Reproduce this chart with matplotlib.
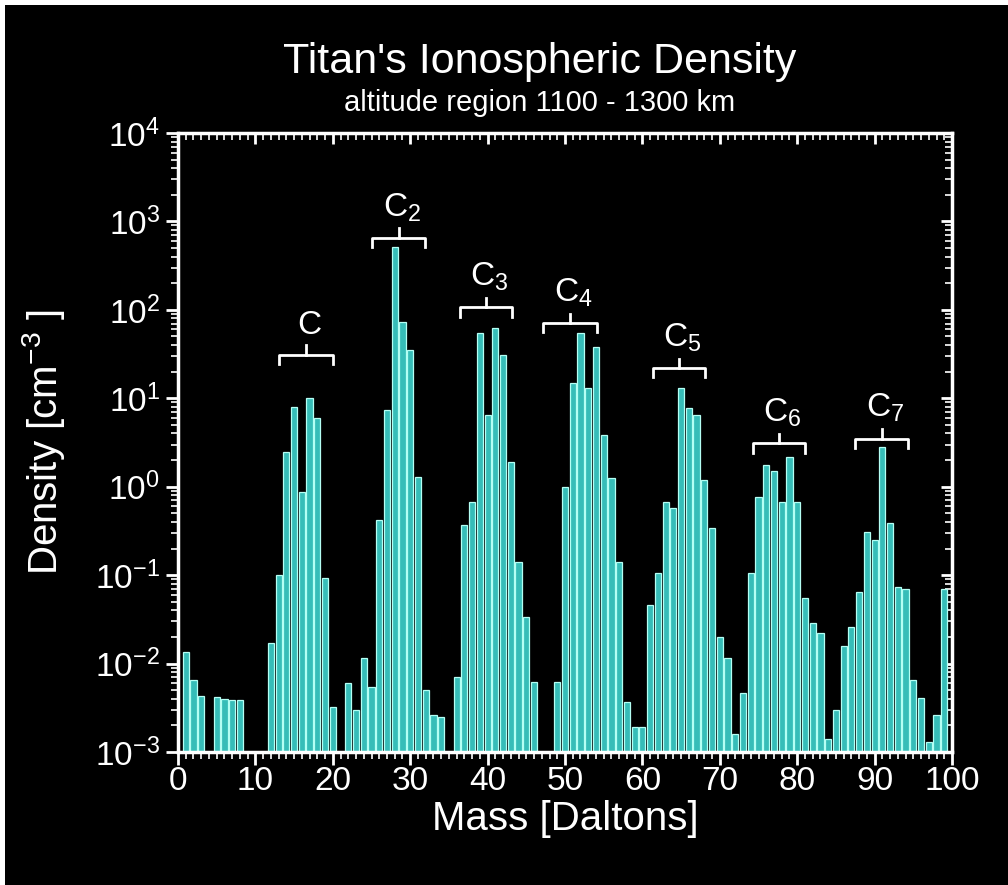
import matplotlib
matplotlib.use("Agg")
import matplotlib.pyplot as plt
from matplotlib.ticker import MultipleLocator, LogLocator, FixedLocator, FixedFormatter, NullFormatter
from matplotlib.patches import Rectangle

FONT = ['Liberation Sans', 'DejaVu Sans']
plt.rcParams['font.family'] = FONT
plt.rcParams['mathtext.fontset'] = 'custom'
plt.rcParams['mathtext.rm'] = 'Liberation Sans'
plt.rcParams['mathtext.it'] = 'Liberation Sans:italic'
plt.rcParams['mathtext.default'] = 'regular'

# ---- data ----
masses = [1, 2, 3, 5, 6, 7, 8,
          12, 13, 14, 15, 16, 17, 18, 19, 20,
          22, 23, 24, 25, 26, 27, 28, 29, 30, 31, 32, 33, 34,
          36, 37, 38, 39, 40, 41, 42, 43, 44, 45, 46,
          49, 50, 51, 52, 53, 54, 55, 56, 57, 58, 59, 60,
          61, 62, 63, 64, 65, 66, 67, 68, 69, 70, 71, 72, 73,
          74, 75, 76, 77, 78, 79, 80, 81, 82, 83, 84, 85,
          86, 87, 88, 89, 90, 91, 92, 93, 94, 95, 96, 97, 98, 99]
densities = [0.0135, 0.0065, 0.0043, 0.0042, 0.0040, 0.0039, 0.0039,
             0.017, 0.10, 2.5, 7.9, 0.87, 10.0, 6.0, 0.093, 0.0032,
             0.006, 0.003, 0.0115, 0.0054, 0.42, 7.4, 510.0, 72.0, 35.0, 1.3, 0.005, 0.0026, 0.0025,
             0.007, 0.37, 0.67, 55.0, 6.4, 62.0, 31.0, 1.9, 0.14, 0.034, 0.0062,
             0.0062, 1.0, 15.0, 55.0, 13.0, 38.0, 3.8, 1.25, 0.14, 0.0037, 0.0019, 0.0019,
             0.046, 0.107, 0.67, 0.57, 13.0, 7.7, 6.4, 1.2, 0.34, 0.02, 0.0115, 0.0016, 0.0047,
             0.107, 0.76, 1.75, 1.5, 0.67, 2.15, 0.67, 0.055, 0.029, 0.022, 0.0014, 0.0030,
             0.016, 0.026, 0.064, 0.31, 0.25, 2.8, 0.39, 0.073, 0.07, 0.0065, 0.0041, 0.0013, 0.0026, 0.07]

group_labels = ['C', 'C$_2$', 'C$_3$', 'C$_4$', 'C$_5$', 'C$_6$', 'C$_7$']
group_lo = [13.1, 25.1, 36.4, 47.2, 61.4, 74.3, 87.5]
group_hi = [20.0, 31.9, 43.2, 54.1, 68.1, 81.0, 94.3]
group_y = [31.0, 650.0, 107.0, 71.0, 22.0, 3.1, 3.5]

title = "Titan's Ionospheric Density"
subtitle = "altitude region 1100 - 1300 km"
xlabel = "Mass [Daltons]"
ylabel = "Density [cm$^{-3}$ ]"
ytick_vals = [1e-3, 1e-2, 1e-1, 1e0, 1e1, 1e2, 1e3, 1e4]
ytick_labels = ['10$^{-3}$', '10$^{-2}$', '10$^{-1}$', '10$^{0}$', '10$^{1}$', '10$^{2}$', '10$^{3}$', '10$^{4}$']
xtick_vals = [0, 10, 20, 30, 40, 50, 60, 70, 80, 90, 100]

# ---- figure ----
W, H = 1008, 885
fig = plt.figure(figsize=(W / 100, H / 100), dpi=100, facecolor='black')
ax = fig.add_axes([178 / W, 1 - 752 / H, (952 - 178) / W, (752 - 133) / H])
ax.set_facecolor('black')
ax.set_yscale('log')
ax.set_xlim(0, 100)
ax.set_ylim(1e-3, 1e4)

ax.bar(masses, densities, width=0.8, color='#36bdb8', edgecolor='#b4fff4',
       linewidth=0.9, zorder=2)

for sp in ax.spines.values():
    sp.set_color('white')
    sp.set_linewidth(2.5)

ax.xaxis.set_major_locator(FixedLocator(xtick_vals))
ax.xaxis.set_minor_locator(MultipleLocator(1))
ax.yaxis.set_major_locator(FixedLocator(ytick_vals))
ax.yaxis.set_major_formatter(FixedFormatter(ytick_labels))
ax.yaxis.set_minor_locator(LogLocator(base=10, subs=range(2, 10), numticks=20))
ax.yaxis.set_minor_formatter(NullFormatter())
ax.tick_params(axis='both', which='major', direction='out', colors='white',
               length=9, width=2, pad=4)
ax.tick_params(axis='x', which='major', labelsize=24, pad=1)
ax.tick_params(axis='y', which='major', labelsize=24)
ax.tick_params(axis='both', which='minor', direction='out', colors='white',
               length=5, width=1.2)

secx = ax.secondary_xaxis('top')
secx.xaxis.set_major_locator(MultipleLocator(10))
secx.xaxis.set_minor_locator(MultipleLocator(1))
secx.tick_params(which='major', direction='in', colors='white', length=8, width=2, labeltop=False)
secx.tick_params(which='minor', direction='in', colors='white', length=5, width=1.2)
secx.spines['top'].set_visible(False)

secy = ax.secondary_yaxis('right')
secy.yaxis.set_major_locator(FixedLocator(ytick_vals))
secy.yaxis.set_minor_locator(LogLocator(base=10, subs=range(2, 10), numticks=20))
secy.tick_params(which='major', direction='in', colors='white', length=8, width=2, labelright=False)
secy.tick_params(which='minor', direction='in', colors='white', length=5, width=1.2)
secy.spines['right'].set_visible(False)

# group brackets
for lab, lo, hi, yb in zip(group_labels, group_lo, group_hi, group_y):
    mid = (lo + hi) / 2
    ax.plot([lo, lo, hi, hi], [yb / 1.28, yb, yb, yb / 1.28], color='white', lw=2, zorder=3)
    ax.plot([mid, mid], [yb, yb * 1.28], color='white', lw=2, zorder=3)
    ax.text(mid + 0.4, yb * 1.45, lab, color='white', fontsize=24, ha='center', va='bottom', zorder=3)

ax.set_xlabel(xlabel, color='white', fontsize=29, labelpad=2)
ax.set_ylabel(ylabel, color='white', fontsize=29, labelpad=20)

fig.text(540 / W, 1 - 62 / H, title, color='white', fontsize=31, ha='center', va='center')
fig.text(540 / W, 1 - 103 / H, subtitle, color='white', fontsize=21, ha='center', va='center')

# thin white border strips at top and left (as in reference)
fig.patches.append(Rectangle((0, 1 - 5 / H), 1, 5 / H, transform=fig.transFigure,
                             facecolor='white', edgecolor='none'))
fig.patches.append(Rectangle((0, 0), 5 / W, 1, transform=fig.transFigure,
                             facecolor='white', edgecolor='none'))

fig.savefig('out.png', dpi=100, facecolor='black')
